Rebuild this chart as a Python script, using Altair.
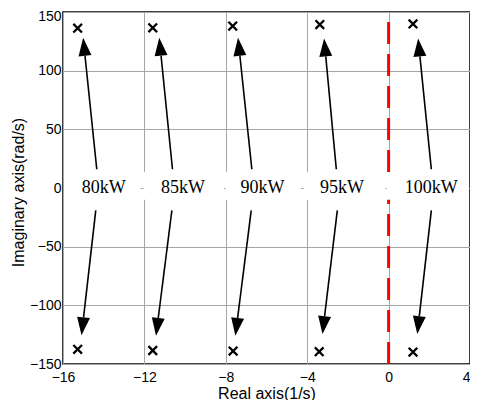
import math
import altair as alt
import pandas as pd

# ---- data ----
labels = ["80kW", "85kW", "90kW", "95kW", "100kW"]
label_x = [-14.0, -10.1, -6.2, -2.29, 2.1]
label_y = [0, 0, 0, 0, 0]
box_left = [-15.95, -12.05, -8.0, -4.17, -0.08]
box_right = [-12.2, -8.1, -4.3, -0.15, 3.95]
box_low = [-10, -10, -10, -10, -10]
box_high = [13.5, 13.5, 13.5, 13.5, 13.5]

pole_re_top = [-15.28, -11.59, -7.66, -3.38, 1.2]
pole_im_top = [136.2, 136.5, 138.0, 139.3, 139.8]
pole_re_bot = [-15.28, -11.59, -7.64, -3.41, 1.2]
pole_im_bot = [-137.5, -138.5, -139.0, -139.5, -139.8]

tail_x_top = [-14.34, -10.62, -6.72, -2.57, 2.1]
tail_y_top = [16, 16, 16, 16, 16]
tip_x_top = [-15.01, -11.27, -7.40, -3.17, 1.45]
tip_y_top = [128, 128, 128, 127.5, 127.5]
tail_x_bot = [-14.39, -10.65, -6.75, -2.52, 2.1]
tail_y_bot = [-19, -19, -19, -19, -19]
tip_x_bot = [-15.09, -11.43, -7.53, -3.25, 1.41]
tip_y_bot = [-125.5, -126, -126, -124.5, -124.5]

x_ticks = [-16, -12, -8, -4, 0, 4]
y_ticks = [-150, -100, -50, 0, 50, 100, 150]
boundary_x = [0]

W, H = 407, 352
X_DOM = [-16, 4]
Y_DOM = [-150, 150]
sx = W / (X_DOM[1] - X_DOM[0])
sy = H / (Y_DOM[1] - Y_DOM[0])
HEAD = 18.0

# ---- arrow geometry (head base and head centre) ----
rows = []
for tx, ty, px, py in zip(tail_x_top + tail_x_bot, tail_y_top + tail_y_bot,
                          tip_x_top + tip_x_bot, tip_y_top + tip_y_bot):
    dx = (px - tx) * sx
    dy = -(py - ty) * sy
    L = math.hypot(dx, dy)
    ux, uy = dx / L, dy / L
    bx = px - ux * HEAD / sx
    by = py + uy * HEAD / sy
    cx = px - ux * HEAD / 2 / sx
    cy = py + uy * HEAD / 2 / sy
    ang = math.degrees(math.atan2(ux, -uy)) % 360
    rows.append(dict(tx=tx, ty=ty, bx=bx, by=by, cx=cx, cy=cy, ang=ang))
arrows = pd.DataFrame(rows)

poles = pd.DataFrame({"re": pole_re_top + pole_re_bot, "im": pole_im_top + pole_im_bot})
lab = pd.DataFrame({"x": label_x, "y": label_y, "t": labels})
boxes = pd.DataFrame({"x": box_left, "x2": box_right, "y": box_low, "y2": box_high})
bound = pd.DataFrame({"x": boundary_x, "y": [Y_DOM[0]], "y2": [Y_DOM[1]]})

xscale = alt.Scale(domain=X_DOM, nice=False, zero=False)
yscale = alt.Scale(domain=Y_DOM, nice=False, zero=False)
xaxis = alt.Axis(values=x_ticks, title="Real axis(1/s)", ticks=False, domain=False,
                 labelPadding=6, titleY=29, titleBaseline="middle", labelFlush=False,
                 labelAlign=alt.ExprRef(expr="datum.value == 4 ? 'right' : 'center'"))
yaxis = alt.Axis(values=y_ticks, title="Imaginary axis(rad/s)", ticks=False, domain=False,
                 labelPadding=2, titleX=-45, titleY=180, titleBaseline="middle",
                 titleAngle=270,
                 labelOffset=alt.ExprRef(expr="datum.value == 150 ? 4 : 0"))


def X(f):
    return alt.X(f, type="quantitative", scale=xscale, axis=xaxis)


def Y(f):
    return alt.Y(f, type="quantitative", scale=yscale, axis=yaxis)


red = alt.Chart(bound).mark_rule(color="#ff0000", strokeWidth=3, strokeDash=[22, 10]).encode(
    x=X("x"), y=Y("y"), y2="y2")

rect = alt.Chart(boxes).mark_rect(fill="white", stroke=None).encode(
    x=X("x"), x2="x2", y=Y("y"), y2="y2")

text = alt.Chart(lab).mark_text(font="Liberation Serif", fontSize=18, baseline="middle",
                                align="center", color="black").encode(
    x=X("x"), y=Y("y"), text="t")

shaft = alt.Chart(arrows).mark_rule(color="black", strokeWidth=1.6).encode(
    x=X("tx"), y=Y("ty"), x2="bx", y2="by")

head = alt.Chart(arrows).mark_point(shape="M0,-1L0.72,1L-0.72,1Z", filled=True, color="black",
                                    size=HEAD * HEAD, opacity=1, strokeWidth=0).encode(
    x=X("cx"), y=Y("cy"), angle=alt.Angle("ang", type="quantitative", scale=None))

cross = alt.Chart(poles).mark_point(shape="M-1,-1L1,1M-1,1L1,-1", filled=False, color="black",
                                    size=75, strokeWidth=2.3, opacity=1).encode(
    x=X("re"), y=Y("im"))

chart = alt.layer(red, rect, text, shaft, head, cross).properties(
    width=W, height=H,
    autosize=alt.AutoSizeParams(type="none"),
    padding={"left": 55, "top": 4, "right": 0, "bottom": 36},
    background="white",
).configure_view(stroke="black", strokeWidth=1.5).configure_axis(
    gridColor="#a6a6a6", gridWidth=1, gridOpacity=1,
    labelFont="Liberation Sans", labelFontSize=14, labelColor="black",
    titleFont="Liberation Sans", titleFontSize=16, titleColor="black", titleFontWeight="normal",
)

chart.save("out.html", embed_options={"renderer": "svg", "actions": False})
